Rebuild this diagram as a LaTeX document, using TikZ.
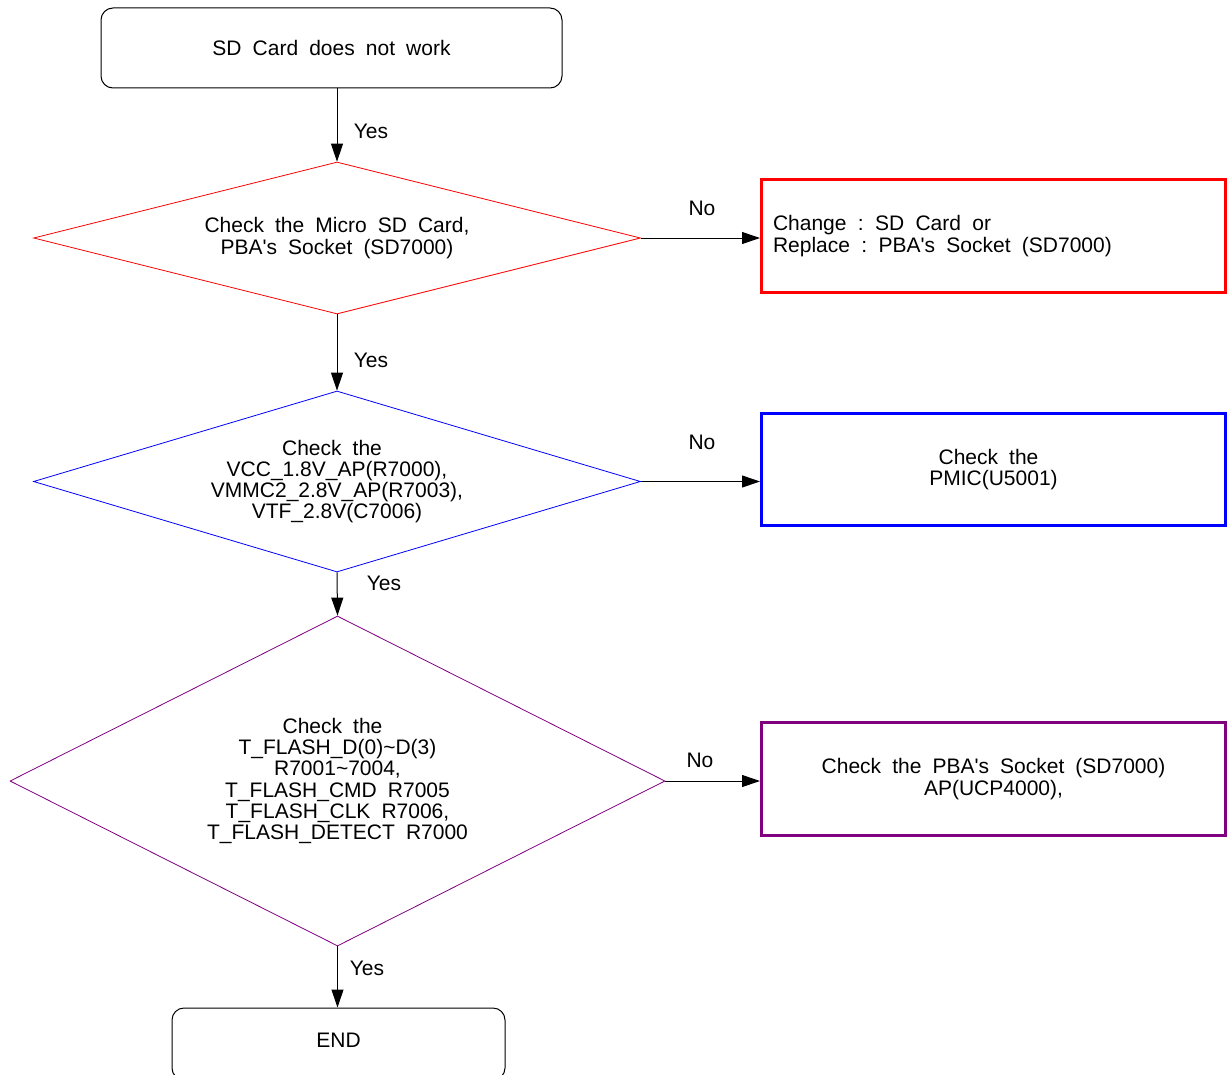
\documentclass[tikz,border=0pt]{standalone}
\usepackage{fontspec}
\newfontfamily\arialf{Liberation Sans}[WordSpace=1.9]
\usetikzlibrary{shapes.geometric,arrows.meta}
\definecolor{purp}{RGB}{128,0,128}
\newcommand\trail{\hspace*{7.5pt}}
\newcommand\widesp{\frenchspacing\spaceskip 8.5pt\relax\xspaceskip 8.5pt\relax}
\begin{document}
\begin{tikzpicture}[x=0.75pt,y=-0.75pt,
  every node/.style={font=\arialf\fontsize{15.75}{15.9}\selectfont},
  rbox/.style={draw, rounded corners=9pt, line width=0.75pt, align=center},
  dia/.style={diamond, draw, line width=0.6pt, inner sep=0pt, align=center},
  obox/.style={draw, rectangle, line width=2.25pt, minimum width=348pt, align=center},
  arr/.style={-{Triangle[length=13.5pt,width=9pt]}, line width=0.75pt},
  lbl/.style={inner sep=0pt}
]
\clip (0,0) rectangle (1227,1074);
\fill[white] (0,0) rectangle (1227,1074);

\node[rbox, minimum width=345.75pt, minimum height=60pt] (top) at (331.5,48) {SD Card does not work};

\node[dia, draw=red, minimum width=455.25pt, minimum height=114pt, aspect=4] (d1) at (337,238)
  {Check the Micro SD Card,\\PBA\char"27 s Socket (SD7000)};
\node[dia, draw=blue, minimum width=455.25pt, minimum height=135.75pt, aspect=3.35] (d2) at (337,481.5)
  {Check the\trail\\VCC\_1.8V\_AP(R7000),\\VMMC2\_2.8V\_AP(R7003),\\VTF\_2.8V(C7006)};
\node[dia, draw=purp, minimum width=491.25pt, minimum height=247.5pt, aspect=2] (d3) at (337.5,781)
  {Check the\trail\\T\_FLASH\_D(0)\textasciitilde D(3)\\R7001\textasciitilde 7004,\\T\_FLASH\_CMD R7005\\T\_FLASH\_CLK R7006,\\T\_FLASH\_DETECT R7000};

\node[obox, draw=red, minimum height=84.75pt, text width=330.75pt, align=left] (b1) at (993.5,236)
  {\widesp Change : SD Card or\\Replace : PBA\char"27 s Socket (SD7000)};
\node[obox, draw=blue, minimum height=84pt] (b2) at (993.5,469.5)
  {Check the\trail\\PMIC(U5001)};
\node[obox, draw=purp, minimum height=84.75pt] (b3) at (993.5,779)
  {Check the PBA\char"27 s Socket (SD7000)\\AP(UCP4000),};

\node[rbox, minimum width=249.75pt, minimum height=54pt, text depth=6pt] (end) at (338.5,1044) {END};

\draw[arr] (d1.north |- top.south) -- (d1.north);
\draw[arr] (d1.south) -- (d2.north);
\draw[arr] (d2.south) -- (d3.north);
\draw[arr] (d3.south) -- (d3.south |- end.north);
\draw[arr] (d1.east) -- (d1.east -| b1.west);
\draw[arr] (d2.east) -- (d2.east -| b2.west);
\draw[arr] (d3.east) -- (d3.east -| b3.west);

\node[lbl] (y1) at (371,131) {Yes};
\node[lbl] (y2) at (371,360) {Yes};
\node[lbl] (y3) at (384,583) {Yes};
\node[lbl] (y4) at (367,968) {Yes};
\node[lbl] (n1) at (702,208) {No};
\node[lbl] (n2) at (702,442) {No};
\node[lbl] (n3) at (700,760) {No};
\end{tikzpicture}
\end{document}
